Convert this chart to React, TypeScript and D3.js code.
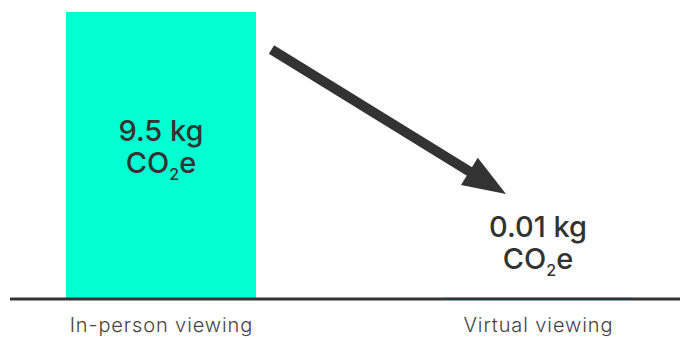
import React from "react";
import * as d3 from "d3";

const categories = ["In-person viewing", "Virtual viewing"];
const values = [9.5, 0.01];
const valueLabels = ["9.5 kg", "0.01 kg"];

const W = 680;
const H = 338;
const baseY = 298;
const topY = 12;

export default function App() {
  const x = d3
    .scaleBand<string>()
    .domain(categories)
    .range([66, 633])
    .paddingInner(0.496)
    .paddingOuter(0);
  const y = d3.scaleLinear().domain([0, 9.5]).range([baseY, topY]);
  const bw = x.bandwidth();

  // arrow from the tall bar towards the small value
  const start: [number, number] = [271.5, 49.5];
  const tip: [number, number] = [506, 194];
  const ang = Math.atan2(tip[1] - start[1], tip[0] - start[0]);
  const headLen = 43;
  const headHalf = 16;
  const ux = Math.cos(ang);
  const uy = Math.sin(ang);
  const base: [number, number] = [tip[0] - ux * headLen, tip[1] - uy * headLen];
  const headPts = [
    tip,
    [base[0] - uy * headHalf, base[1] + ux * headHalf],
    [base[0] + uy * headHalf, base[1] - ux * headHalf],
  ];
  const shaftEnd: [number, number] = [base[0] + ux * 2, base[1] + uy * 2];

  const labelY = [141, 237];

  return (
    <svg
      width={W}
      height={H}
      style={{ position: "absolute", left: 0, top: 0, background: "#fff" }}
    >
      {categories.map((c, i) => (
        <rect
          key={c}
          x={x(c)}
          y={y(values[i])}
          width={bw}
          height={baseY - y(values[i])}
          fill="#00FFD1"
        />
      ))}
      <line x1={10} x2={680} y1={baseY + 1} y2={baseY + 1} stroke="#333" strokeWidth={3} />
      {categories.map((c) => (
        <text
          key={c}
          x={(x(c) as number) + bw / 2 + 0.45}
          y={332}
          textAnchor="middle"
          fontFamily="Inter"
          fontWeight={300}
          fontSize={20}
          letterSpacing={0.9}
          fill="#444"
        >
          {c}
        </text>
      ))}
      <line
        x1={start[0]}
        y1={start[1]}
        x2={shaftEnd[0]}
        y2={shaftEnd[1]}
        stroke="#333"
        strokeWidth={10}
      />
      <polygon points={headPts.map((p) => p.join(",")).join(" ")} fill="#333" />
      {categories.map((c, i) => {
        const cx = (x(c) as number) + bw / 2;
        return (
          <g key={c} fontFamily="Inter" fontWeight={500} fill="#333" textAnchor="middle">
            <text x={cx} y={labelY[i]} fontSize={29}>
              {valueLabels[i]}
            </text>
            <text x={cx} y={labelY[i] + 32} fontSize={29}>
              CO<tspan fontSize={16} dy={7}>2</tspan>
              <tspan dy={-7}>e</tspan>
            </text>
          </g>
        );
      })}
    </svg>
  );
}
